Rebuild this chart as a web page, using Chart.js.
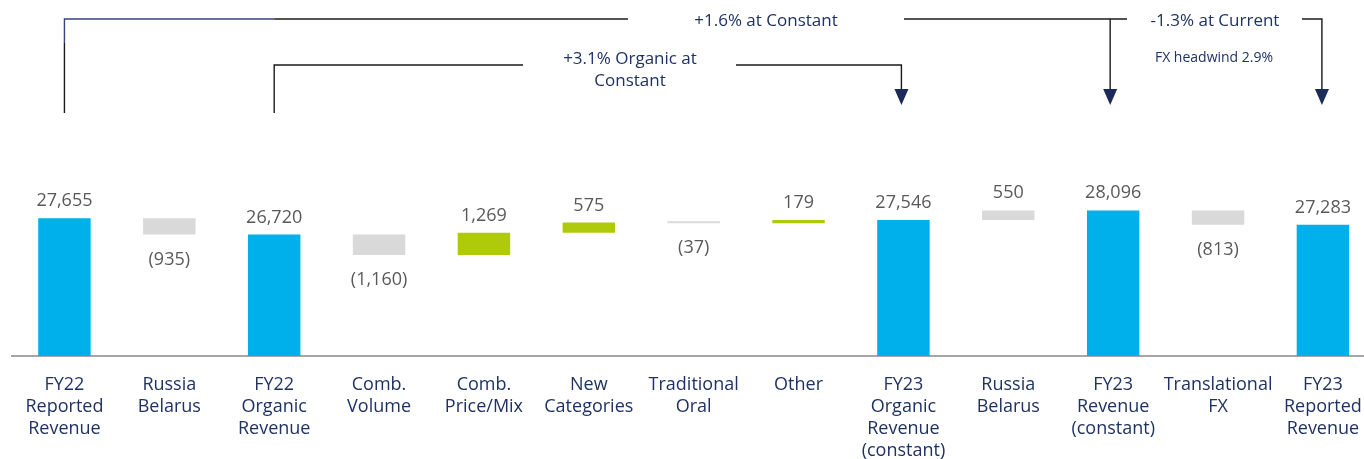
<!DOCTYPE html>
<html><head><meta charset="utf-8">
<script src="https://cdn.jsdelivr.net/npm/chart.js@4.4.0/dist/chart.umd.min.js"></script>
<style>
html,body{margin:0;padding:0;background:#fff;overflow:hidden;width:1364px;height:459px}
#wrap{position:relative;width:1380px;height:480px}
</style></head><body>
<div id="wrap"><canvas id="c"></canvas></div>
<script>
// ---- data ----
const categories = [
  ["FY22","Reported","Revenue"],
  ["Russia","Belarus"],
  ["FY22","Organic","Revenue"],
  ["Comb.","Volume"],
  ["Comb.","Price/Mix"],
  ["New","Categories"],
  ["Traditional","Oral"],
  ["Other"],
  ["FY23","Organic","Revenue","(constant)"],
  ["Russia","Belarus"],
  ["FY23","Revenue","(constant)"],
  ["Translational","FX"],
  ["FY23","Reported","Revenue"]
];
const values = [27655, -935, 26720, -1160, 1269, 575, -37, 179, 27546, 550, 28096, -813, 27283];
const kinds  = ["total","adjust","total","organic","organic","organic","organic","organic","total","adjust","total","adjust","total"];
const annotations = {
  outerLabel: "+1.6% at Constant",
  innerLabel: ["+3.1% Organic at","Constant"],
  currentLabel: "-1.3% at Current",
  fxLabel: "FX headwind 2.9%"
};

// ---- styles ----
const BLUE = '#00B0EA', GREEN = '#AFCA0B', GREY = '#D9D9D9';
const NAVY = '#1F3264', VALUE_COL = '#595959';
const FONT = "'Open Sans', sans-serif";

// build floating ranges from the values
const barData = [];
let run = 0;
values.forEach((v, i) => {
  if (kinds[i] === 'total') { barData.push(v); run = v; }
  else { barData.push([run, run + v]); run += v; }
});
const barColors = values.map((v, i) =>
  kinds[i] === 'total' ? BLUE : (kinds[i] === 'organic' && v > 0 ? GREEN : GREY));
const fmt = v => {
  const s = Math.abs(v).toLocaleString('en-US');
  return v < 0 ? '(' + s + ')' : s;
};

const labelPlugin = {
  id: 'labels',
  afterDatasetsDraw(chart) {
    const ctx = chart.ctx;
    const meta = chart.getDatasetMeta(0);
    ctx.save();
    ctx.font = "18px " + FONT;
    ctx.fillStyle = VALUE_COL;
    ctx.textAlign = 'center';
    ctx.textBaseline = 'alphabetic';
    meta.data.forEach((bar, i) => {
      const p = bar.getProps(['x','y','base'], true);
      const top = Math.min(p.y, p.base), bottom = Math.max(p.y, p.base);
      const v = values[i];
      if (v < 0) ctx.fillText(fmt(v), p.x, bottom + 30);
      else ctx.fillText(fmt(v), p.x, top - 12);
    });
    ctx.restore();
  },
  afterDraw(chart) {
    const ctx = chart.ctx;
    const xs = i => chart.scales.x.getPixelForValue(i);
    ctx.save();
    ctx.lineWidth = 1.4;
    ctx.strokeStyle = '#1A1A1A';
    const seg = pts => { ctx.beginPath(); ctx.moveTo(pts[0][0], pts[0][1]); for (let k = 1; k < pts.length; k++) ctx.lineTo(pts[k][0], pts[k][1]); ctx.stroke(); };
    const yOuter = 19, yInner = 65, yArrow = 89, yStart = 113;
    // outer bracket
    seg([[xs(0), yStart], [xs(0), 43]]);
    ctx.strokeStyle = '#33457F';
    seg([[xs(0), 43], [xs(0), yOuter], [xs(2), yOuter]]);
    ctx.strokeStyle = '#1A1A1A';
    seg([[xs(2), yOuter], [628, yOuter]]);
    seg([[904, yOuter], [1127, yOuter]]);
    seg([[xs(10) - 3, yOuter], [xs(10) - 3, yArrow]]);
    seg([[1302, yOuter], [xs(12) - 1, yOuter], [xs(12) - 1, yArrow]]);
    // inner bracket
    seg([[xs(2), yStart], [xs(2), yInner], [523, yInner]]);
    seg([[736, yInner], [xs(8) - 2, yInner], [xs(8) - 2, yArrow]]);
    // arrows
    ctx.fillStyle = '#1B2A58';
    [xs(8) - 2, xs(10) - 3, xs(12) - 1].forEach(x => {
      ctx.beginPath();
      ctx.moveTo(x - 7, yArrow);
      ctx.lineTo(x + 7, yArrow);
      ctx.lineTo(x, yArrow + 16);
      ctx.closePath();
      ctx.fill();
    });
    // texts
    ctx.fillStyle = NAVY;
    ctx.textAlign = 'center';
    ctx.textBaseline = 'middle';
    ctx.font = "17px " + FONT;
    ctx.fillText(annotations.outerLabel, 766, 21);
    ctx.fillText(annotations.innerLabel[0], 630, 59);
    ctx.fillText(annotations.innerLabel[1], 630, 81);
    ctx.fillText(annotations.currentLabel, 1215, 21);
    ctx.font = "14px " + FONT;
    ctx.fillText(annotations.fxLabel, 1214, 58);
    ctx.restore();
  }
};

new Chart(document.getElementById('c'), {
  type: 'bar',
  data: {
    labels: categories,
    datasets: [{
      data: barData,
      backgroundColor: barColors,
      borderWidth: 0,
      barPercentage: 0.5,
      categoryPercentage: 1.0,
      minBarLength: 2
    }]
  },
  options: {
    responsive: true,
    maintainAspectRatio: false,
    animation: false,
    devicePixelRatio: 1,
    layout: { padding: { top: 177, left: 12, right: 3, bottom: 0 } },
    plugins: { legend: { display: false }, tooltip: { enabled: false } },
    scales: {
      y: { display: false, min: 19800, max: 30000 },
      x: {
        grid: { display: false, drawTicks: false },
        border: { display: true, color: '#A6A6A6', width: 2 },
        ticks: {
          autoSkip: false, maxRotation: 0, padding: 18,
          color: NAVY,
          font: { family: FONT, size: 18, lineHeight: 22 / 18 }
        }
      }
    }
  },
  plugins: [labelPlugin]
});
</script>
</body></html>
